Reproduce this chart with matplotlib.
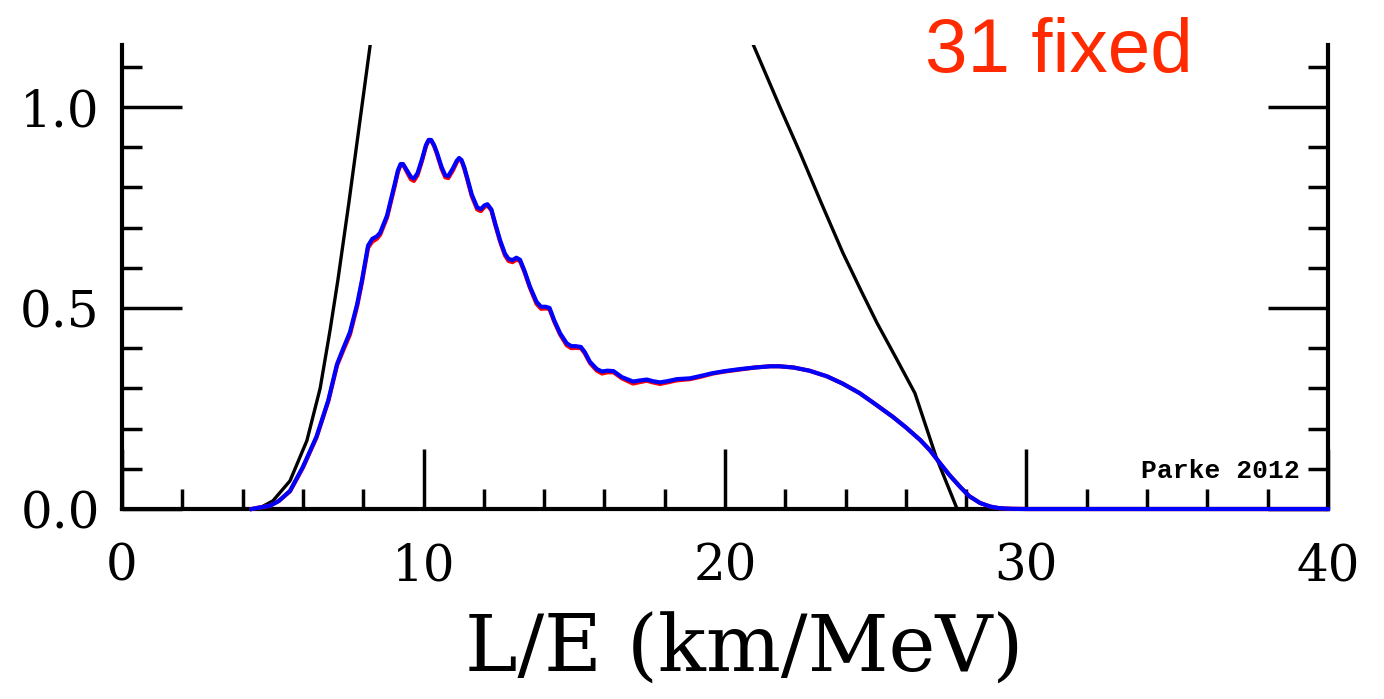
import numpy as np
import matplotlib
matplotlib.use('Agg')
import matplotlib.pyplot as plt
from matplotlib.ticker import MultipleLocator

plt.rcParams.update({
    'font.family': 'DejaVu Serif',
    'xtick.direction': 'in',
    'ytick.direction': 'in',
})

# probability curves (L/E in km/MeV)
blue_x = [4.3, 4.5, 4.9, 5.2, 5.57, 6.0, 6.45, 6.84, 7.13, 7.34, 7.56, 7.8, 7.96,
          8.16, 8.3, 8.45, 8.56, 8.79, 9.05, 9.15, 9.24, 9.32, 9.45, 9.58, 9.68, 9.8, 9.95,
          10.08, 10.17, 10.25, 10.35, 10.45, 10.6, 10.72, 10.82, 10.98, 11.1, 11.18, 11.26,
          11.35, 11.44, 11.6, 11.78, 11.9, 12.02, 12.12, 12.25, 12.37, 12.54, 12.7, 12.82,
          12.95, 13.08, 13.2, 13.35, 13.53, 13.75, 13.9, 14.05, 14.18, 14.33, 14.53, 14.75,
          14.9, 15.05, 15.22, 15.35, 15.52, 15.75, 15.92, 16.1, 16.3, 16.58, 16.95, 17.2,
          17.41, 17.6, 17.84, 18.1, 18.4, 18.84, 19.2, 19.6, 20.0, 20.5, 21.0, 21.5, 21.8,
          22.27, 22.8, 23.38, 23.9, 24.47, 25.0, 25.57, 26.0, 26.47, 26.8, 27.13, 27.45,
          27.8, 28.1, 28.46, 28.8, 29.1, 29.5, 30, 40]
blue_y = [0, 0.003, 0.008, 0.02, 0.045, 0.105, 0.18, 0.27, 0.36, 0.40, 0.44, 0.51, 0.57,
          0.655, 0.672, 0.678, 0.687, 0.73, 0.81, 0.842, 0.858, 0.858, 0.842, 0.826, 0.822,
          0.835, 0.87, 0.905, 0.918, 0.918, 0.905, 0.885, 0.85, 0.83, 0.828, 0.848, 0.866,
          0.873, 0.868, 0.85, 0.826, 0.782, 0.75, 0.746, 0.755, 0.758, 0.745, 0.712, 0.668,
          0.635, 0.622, 0.619, 0.625, 0.62, 0.592, 0.553, 0.515, 0.503, 0.503, 0.5, 0.47,
          0.437, 0.412, 0.405, 0.405, 0.403, 0.39, 0.366, 0.348, 0.342, 0.344, 0.343, 0.328,
          0.317, 0.32, 0.322, 0.318, 0.315, 0.318, 0.323, 0.325, 0.331, 0.338, 0.343, 0.348,
          0.352, 0.355, 0.355, 0.352, 0.344, 0.33, 0.312, 0.288, 0.26, 0.229, 0.203, 0.172,
          0.146, 0.114, 0.084, 0.055, 0.032, 0.015, 0.006, 0.002, 0.0005, 0, 0]
red_y = [0, 0.003, 0.008, 0.02, 0.044, 0.103, 0.178, 0.268, 0.357, 0.395, 0.434, 0.505, 0.565,
         0.65, 0.665, 0.672, 0.682, 0.725, 0.805, 0.838, 0.856, 0.857, 0.838, 0.82, 0.816,
         0.83, 0.866, 0.902, 0.917, 0.917, 0.903, 0.882, 0.846, 0.825, 0.823, 0.843, 0.862,
         0.87, 0.866, 0.847, 0.823, 0.778, 0.745, 0.741, 0.751, 0.755, 0.743, 0.709, 0.665,
         0.631, 0.617, 0.614, 0.62, 0.617, 0.589, 0.55, 0.51, 0.498, 0.499, 0.497, 0.467,
         0.434, 0.407, 0.4, 0.401, 0.4, 0.387, 0.363, 0.344, 0.337, 0.34, 0.34, 0.325,
         0.312, 0.316, 0.319, 0.315, 0.311, 0.315, 0.32, 0.323, 0.329, 0.337, 0.342, 0.347,
         0.352, 0.355, 0.355, 0.352, 0.344, 0.33, 0.312, 0.288, 0.26, 0.229, 0.203, 0.172,
         0.146, 0.114, 0.084, 0.055, 0.032, 0.015, 0.006, 0.002, 0.0005, 0, 0]

black_left_x = [0, 4.5, 5.0, 5.57, 6.13, 6.57, 6.9, 7.16, 7.52, 8.23, 8.35]
black_left_y = [0, 0, 0.02, 0.07, 0.17, 0.30, 0.445, 0.57, 0.76, 1.154, 1.2]
black_right_x = [20.85, 21.82, 22.49, 23.2, 23.91, 24.5, 25.04, 25.7, 26.3, 27.0, 27.7, 40]
black_right_y = [1.17, 1.0, 0.886, 0.76, 0.637, 0.545, 0.463, 0.372, 0.288, 0.13, 0, 0]

fig = plt.figure(figsize=(13.84, 6.99), dpi=100)
ax = fig.add_axes([0.0882, 0.2718, 0.8713, 0.6638])

ax.plot(black_left_x, black_left_y, color='black', lw=2.4, solid_joinstyle='round')
ax.plot(black_right_x, black_right_y, color='black', lw=2.4, solid_joinstyle='round')
ax.plot(blue_x, red_y, color='red', lw=3.0, solid_joinstyle='round',
        zorder=3, clip_on=False)
ax.plot(blue_x, blue_y, color='blue', lw=3.0, solid_joinstyle='round',
        zorder=3.1, clip_on=False)

ax.set_xlim(0, 40)
ax.set_ylim(0, 1.154)

ax.spines['top'].set_visible(False)
for s in ['left', 'right', 'bottom']:
    ax.spines[s].set_linewidth(3)

ax.xaxis.set_major_locator(MultipleLocator(10))
ax.xaxis.set_minor_locator(MultipleLocator(2))
ax.yaxis.set_minor_locator(MultipleLocator(0.1))
ax.set_yticks([0, 0.5, 1.0])
ax.set_yticklabels(['0.0', '0.5', '1.0'])

ax.tick_params(axis='both', which='major', length=43, width=2.5, labelsize=36)
ax.tick_params(axis='both', which='minor', length=14.5, width=2.5)
ax.tick_params(axis='x', which='both', top=False, pad=24)
ax.tick_params(axis='y', which='both', left=True, right=True, pad=16)

ax.text(39.07, 0.077, 'Parke 2012', family='Liberation Mono', fontweight='bold',
        fontsize=19, ha='right', va='baseline')

fig.text(0.538, 0.039, 'L/E (km/MeV)', fontsize=57, ha='center', va='baseline')
fig.text(0.668, 0.897, '31 fixed', color='#ff2a00', family='Liberation Sans',
         fontsize=55, ha='left', va='baseline')

fig.savefig('out.png', dpi=100)
